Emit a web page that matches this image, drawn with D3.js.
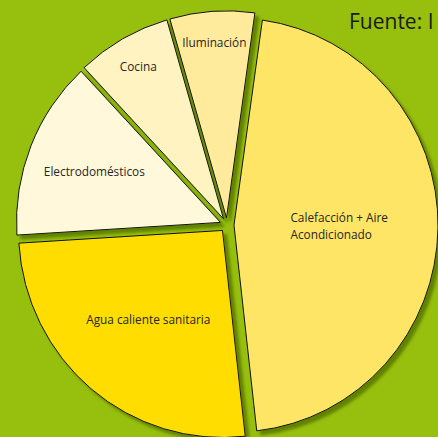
<!DOCTYPE html>
<html lang="es">
<head>
    <meta charset="UTF-8">
    <title>Consumo energético en el hogar</title>
    <script src="https://d3js.org/d3.v7.min.js"></script>
    <style>
        body { margin: 0; background: #97bf0d; }
        svg { display: block; }
    </style>
</head>
<body>

<script>
    // Datos
    var categories = [
        ["Calefacción + Aire", "Acondicionado"],
        ["Agua caliente sanitaria"],
        ["Electrodomésticos"],
        ["Cocina"],
        ["Iluminación"]
    ];
    var values = [46, 25.8, 14, 7.5, 6.7];
    var colors = ["#ffe565", "#ffdd00", "#fff8db", "#fff3c2", "#ffeb9b"];
    var sourceText = "Fuente: I";

    // Tamaño
    var width = 438;
    var height = 437;
    var cx = 227, cy = 225;
    var radius = 204;
    var stretchY = 1.015;
    var explode = 7;

    var svg = d3.select("body").append("svg")
        .attr("width", width)
        .attr("height", height);

    svg.append("rect")
        .attr("width", width)
        .attr("height", height)
        .attr("fill", "#97bf0d");

    // sombra
    var defs = svg.append("defs");
    var filter = defs.append("filter")
        .attr("id", "shadow")
        .attr("x", "-10%").attr("y", "-10%")
        .attr("width", "120%").attr("height", "120%");
    filter.append("feDropShadow")
        .attr("dx", 4)
        .attr("dy", 4)
        .attr("stdDeviation", 1.5)
        .attr("flood-color", "#5b7a00")
        .attr("flood-opacity", 0.9);

    var start = 8 * Math.PI / 180;
    var pie = d3.pie()
        .sort(null)
        .startAngle(start)
        .endAngle(start + 2 * Math.PI)
        .value(function (d) { return d; });

    var arcs = pie(values);

    var arc = d3.arc()
        .innerRadius(0)
        .outerRadius(radius);

    function offset(d, r) {
        var mid = (d.startAngle + d.endAngle) / 2;
        return [r * Math.sin(mid), -r * Math.cos(mid) * stretchY];
    }

    var g = svg.append("g")
        .attr("transform", "translate(" + cx + "," + cy + ")");

    g.selectAll("path")
        .data(arcs)
        .enter().append("path")
        .attr("transform", function (d) {
            var o = offset(d, explode);
            return "translate(" + o[0] + "," + o[1] + ") scale(1," + stretchY + ")";
        })
        .attr("d", arc)
        .attr("fill", function (d, i) { return colors[i]; })
        .attr("stroke", "#111")
        .attr("stroke-width", 1)
        .attr("vector-effect", "non-scaling-stroke")
        .attr("filter", "url(#shadow)");

    // Etiquetas
    function labelRadius(d) {
        var share = (d.endAngle - d.startAngle) / (2 * Math.PI);
        if (share > 0.4) return radius * 0.55;
        if (share > 0.2) return radius * 0.6;
        if (share > 0.1) return radius * 0.7;
        return radius * 0.88;
    }

    var lineH = 17;
    g.selectAll("text.label")
        .data(arcs)
        .enter().append("text")
        .attr("class", "label")
        .attr("font-family", "'Open Sans', sans-serif")
        .attr("font-size", "11.8px")
        .attr("fill", "#262626")
        .each(function (d, i) {
            var t = d3.select(this);
            var lines = categories[i];
            var p = offset(d, labelRadius(d));
            lines.forEach(function (line, j) {
                t.append("tspan")
                    .attr("y", p[1] + (j - (lines.length - 1) / 2) * lineH)
                    .attr("dy", "0.35em")
                    .text(line);
            });
            var maxW = 0;
            t.selectAll("tspan").each(function () {
                maxW = Math.max(maxW, this.getComputedTextLength());
            });
            t.selectAll("tspan").attr("x", p[0] - maxW / 2);
        });

    svg.append("text")
        .attr("x", 349)
        .attr("y", 29)
        .attr("font-family", "'Open Sans', sans-serif")
        .attr("font-size", "21px")
        .attr("fill", "#1a1a1a")
        .text(sourceText);
</script>

</body>
</html>
